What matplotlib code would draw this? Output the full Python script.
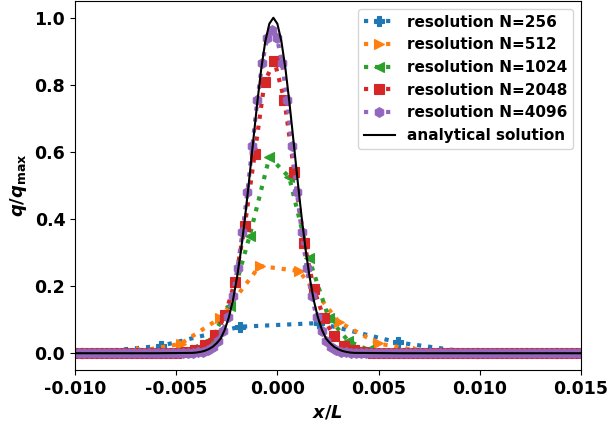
import numpy as np
import matplotlib
matplotlib.use("Agg")
import matplotlib.pyplot as plt

plt.rcParams['font.family'] = ['DejaVu Sans']
plt.rcParams['font.weight'] = 'bold'
plt.rcParams['axes.labelweight'] = 'bold'
plt.rcParams['axes.unicode_minus'] = False
plt.rcParams['mathtext.fontset'] = 'custom'
plt.rcParams['mathtext.rm'] = 'DejaVu Sans:bold'
plt.rcParams['mathtext.it'] = 'DejaVu Sans:italic:bold'
plt.rcParams['mathtext.bf'] = 'DejaVu Sans:bold'

# ---- data ----
labels = ['resolution N=256', 'resolution N=512', 'resolution N=1024',
          'resolution N=2048', 'resolution N=4096']
markers = ['P', '>', '<', 's', 'h']
colors = ['#1f77b4', '#ff7f0e', '#2ca02c', '#d62728', '#9467bd']

# N=256 (cell spacing 1/256)
x256_start, h256 = -0.013571, 1.0 / 256
q256 = [0.0, 0.0, 0.022, 0.079, 0.09, 0.032, 0.0, 0.0, 0.0]

# N=512
x512_start, h512 = -0.010641, 1.0 / 512
q512 = [0.0, 0.001, 0.007, 0.028, 0.105, 0.26, 0.245, 0.093, 0.029, 0.008,
        0.002, 0.0, 0.0, 0.0, 0.0]

# N=1024
x1024_start, h1024 = -0.011136, 1.0 / 1024
q1024 = [0.0, 0.0, 0.0, 0.0, 0.0, 0.0,
         0.002, 0.01, 0.04, 0.14, 0.35, 0.585,
         0.525, 0.283, 0.105, 0.036, 0.01, 0.002,
         0.0, 0.0, 0.0, 0.0, 0.0, 0.0, 0.0, 0.0, 0.0, 0.0]

# N=2048
x2048_start, h2048 = -0.010398, 1.0 / 2048
q2048 = [0.0, 0.0, 0.0, 0.0, 0.0, 0.0, 0.0, 0.0, 0.0, 0.0,
         0.001, 0.002, 0.005, 0.011, 0.025, 0.055, 0.113, 0.213, 0.38, 0.595,
         0.81, 0.87,
         0.755, 0.54, 0.33, 0.19, 0.105, 0.05, 0.023, 0.01, 0.004, 0.002, 0.001,
         0.0, 0.0, 0.0, 0.0, 0.0, 0.0, 0.0, 0.0, 0.0, 0.0,
         0.0, 0.0, 0.0, 0.0, 0.0, 0.0, 0.0, 0.0, 0.0, 0.0, 0.0]

# N=4096
x4096_start, h4096 = -0.010270, 1.0 / 4096
q4096 = [0.0, 0.0, 0.0, 0.0, 0.0, 0.0, 0.0, 0.0, 0.0, 0.0, 0.0, 0.0,
         0.0, 0.0, 0.0, 0.0, 0.0, 0.0, 0.0, 0.0, 0.0, 0.0, 0.0, 0.0,
         0.001, 0.002, 0.003, 0.005, 0.01, 0.02, 0.037, 0.065, 0.108, 0.17,
         0.255, 0.36, 0.482, 0.617, 0.755, 0.865, 0.94,
         0.965,
         0.94, 0.865, 0.755, 0.617, 0.482, 0.36, 0.255, 0.17, 0.108, 0.065,
         0.037, 0.02, 0.01, 0.005, 0.003, 0.002, 0.001,
         0.0, 0.0, 0.0, 0.0, 0.0, 0.0, 0.0, 0.0, 0.0, 0.0, 0.0, 0.0,
         0.0, 0.0, 0.0, 0.0, 0.0, 0.0, 0.0, 0.0, 0.0, 0.0, 0.0, 0.0,
         0.0, 0.0, 0.0, 0.0, 0.0, 0.0, 0.0, 0.0, 0.0, 0.0, 0.0, 0.0,
         0.0, 0.0, 0.0, 0.0, 0.0, 0.0, 0.0, 0.0, 0.0, 0.0, 0.0]

# analytical solution
x_ana = [-0.0102, -0.0060, -0.0042, -0.0040, -0.0038, -0.0036, -0.0034,
         -0.0032, -0.0030, -0.0028, -0.0026, -0.0024, -0.0022, -0.0020, -0.0018,
         -0.0016, -0.0014, -0.0012, -0.0010, -0.0008, -0.0006, -0.0004, -0.0002,
         0.0000, 0.0002, 0.0004, 0.0006, 0.0008, 0.0010, 0.0012, 0.0014, 0.0016,
         0.0018, 0.0020, 0.0022, 0.0024, 0.0026, 0.0028, 0.0030, 0.0032, 0.0034,
         0.0036, 0.0038, 0.0060, 0.0152]
q_ana = [0.0, 0.0, 0.001, 0.002, 0.004, 0.007, 0.012, 0.019, 0.03, 0.044,
         0.07, 0.107, 0.157, 0.224, 0.306, 0.404, 0.514, 0.63, 0.744, 0.847,
         0.929, 0.982, 1.0,
         0.982, 0.929, 0.847, 0.744, 0.63, 0.514, 0.404, 0.306, 0.224, 0.157,
         0.107, 0.07, 0.044, 0.03, 0.019, 0.012, 0.007, 0.004, 0.002,
         0.001, 0.0, 0.0]

series = [(x256_start, h256, q256), (x512_start, h512, q512),
          (x1024_start, h1024, q1024), (x2048_start, h2048, q2048),
          (x4096_start, h4096, q4096)]

fig = plt.figure(figsize=(6.11, 4.26), dpi=100)
ax = fig.add_axes([75 / 611, 56 / 426, 506 / 611, 369 / 426])

for (x0, h, q), lab, m, c in zip(series, labels, markers, colors):
    x = x0 + h * np.arange(len(q))
    ax.plot(x, q, linestyle=':', linewidth=3, marker=m, markersize=7,
            markeredgewidth=0.8, color=c, label=lab)

ax.plot(x_ana, q_ana, color='black', linewidth=1.5, label='analytical solution')

ax.set_xlim(-0.010, 0.015)
ax.set_ylim(-0.05, 1.05)
ax.set_xticks([-0.010, -0.005, 0.000, 0.005, 0.010, 0.015])
ax.set_xticklabels(['-0.010', '-0.005', '0.000', '0.005', '0.010', '0.015'])
ax.set_yticks([0.0, 0.2, 0.4, 0.6, 0.8, 1.0])
ax.set_yticklabels(['0.0', '0.2', '0.4', '0.6', '0.8', '1.0'])
ax.tick_params(labelsize=12.5)
for t in ax.get_xticklabels() + ax.get_yticklabels():
    t.set_fontweight('bold')

ax.set_xlabel(r'$x/L$', fontsize=13)
ax.set_ylabel(r'$q/q_{\mathrm{max}}$', fontsize=13)

leg = ax.legend(loc='upper right', prop={'weight': 'bold', 'size': 11},
                labelspacing=0.5)

fig.savefig('out.png', dpi=100)
